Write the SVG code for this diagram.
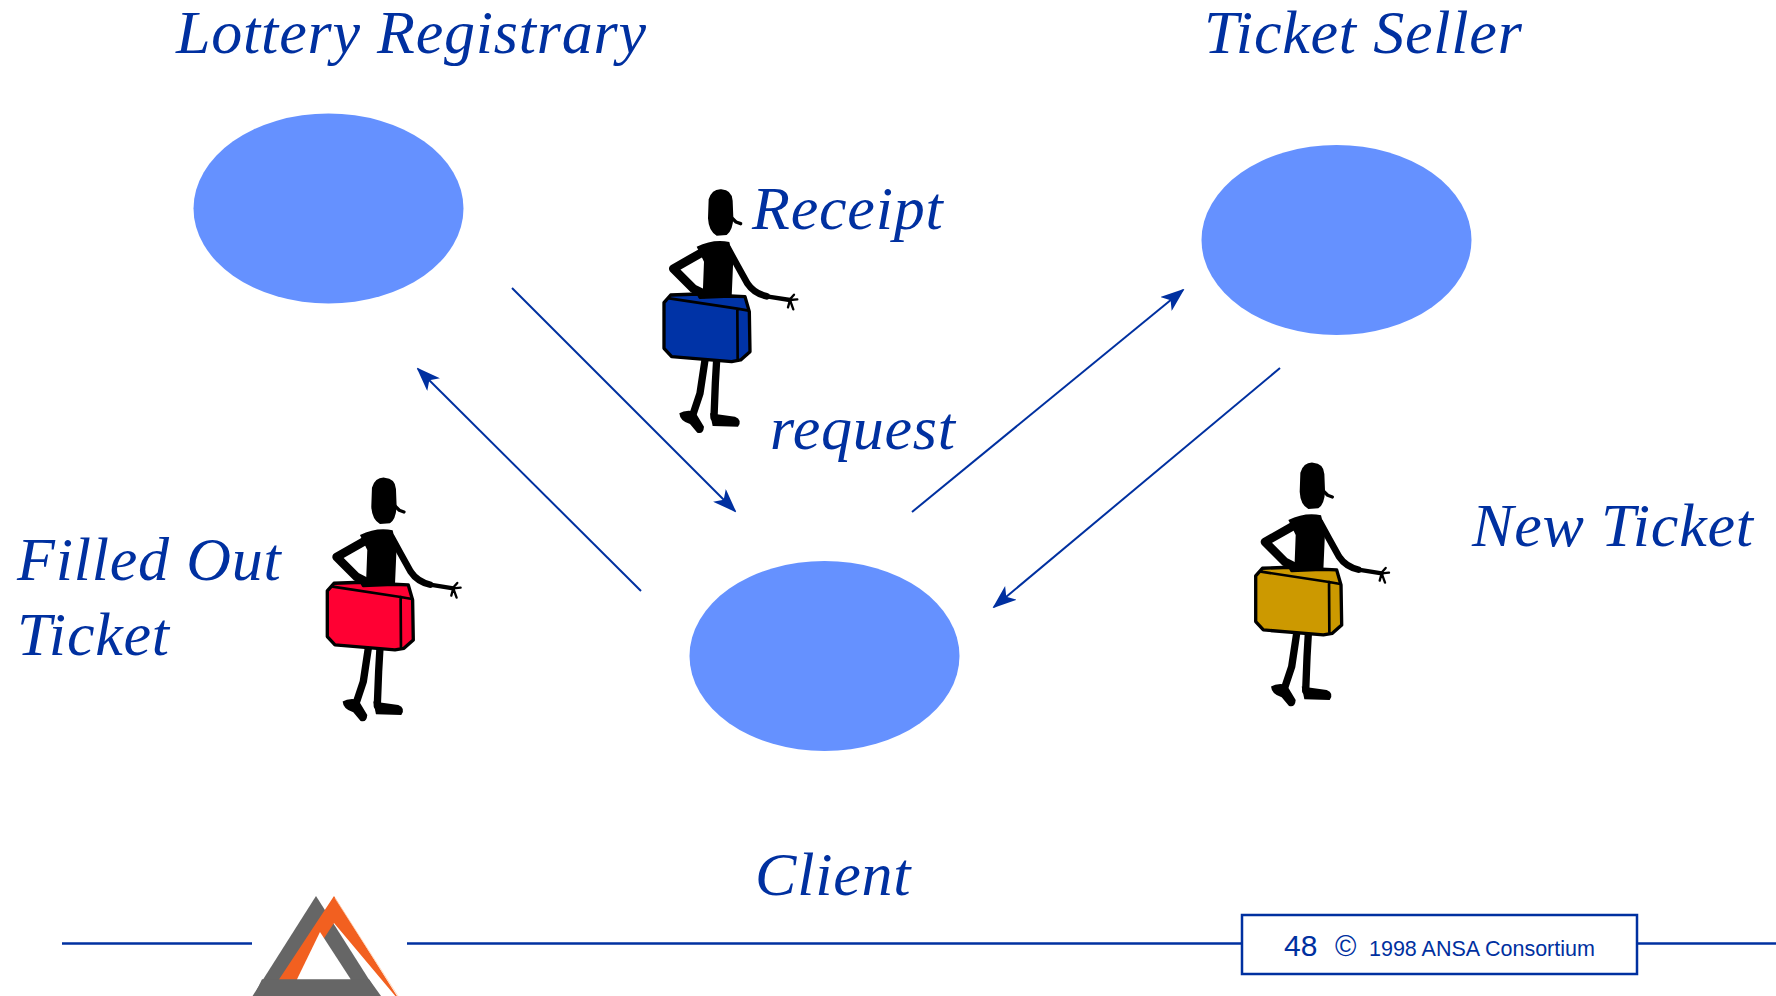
<svg xmlns="http://www.w3.org/2000/svg" xmlns:xlink="http://www.w3.org/1999/xlink" width="1776" height="996" viewBox="0 0 1776 996">
  <style>
    .label { font-family: "Liberation Serif", "Times New Roman", serif; font-style: italic; font-size: 62px; letter-spacing: 0.8px; fill: #0030A0; }
    .node { fill: #6591FF; }
    .conn { stroke: #0030A0; stroke-width: 2; fill: none; }
    .rule { stroke: #0030A0; stroke-width: 2.5; fill: none; }
    .foot { font-family: "Liberation Sans", Arial, sans-serif; fill: #0030A0; }
    .ink { fill: #000; }
    .limb { fill: none; stroke: #000; stroke-linecap: round; stroke-linejoin: round; }
  </style>
  <defs>
    <marker id="arrow" viewBox="0 0 24 18" refX="22" refY="9" markerWidth="24" markerHeight="18" markerUnits="userSpaceOnUse" orient="auto">
      <path d="M0,0 L24,9 L0,18 L6,9 Z" fill="#0030A0"/>
    </marker>
    <!-- porter carrying a case; case colour comes from currentColor -->
    <g id="porter">
      <!-- head -->
      <path class="ink" d="M176,58 Q186,26 214,28 Q246,30 248,62 L250,112 Q249,152 230,165 L200,167 Q176,154 174,115 Z"/>
      <path class="limb" stroke-width="10" d="M236,104 L258,126 L272,131"/>
      <!-- torso -->
      <path class="ink" d="M140,200 Q190,176 238,186 L250,235 L245,350 L158,350 L162,245 Z"/>
      <!-- right arm reaching out -->
      <path class="limb" stroke-width="20" d="M234,205 L264,260 L292,310 Q312,340 350,349"/>
      <path class="limb" stroke-width="13" d="M350,349 L420,360"/>
      <path class="limb" stroke-width="7" d="M418,360 L432,344 M420,360 L442,358 M420,360 L430,388 M420,360 L414,382"/>
      <!-- legs and feet -->
      <path class="limb" stroke-width="22" d="M165,540 L150,640 L130,700"/>
      <path class="ink" d="M88,700 Q105,688 134,694 L162,740 Q160,764 142,758 L120,732 Q90,724 88,700 Z"/>
      <path class="limb" stroke-width="22" d="M200,540 L196,610 L192,712"/>
      <path class="ink" d="M180,700 L255,710 Q278,720 264,740 L188,738 Z"/>
      <!-- case -->
      <path fill="currentColor" stroke="#000" stroke-width="10" stroke-linejoin="round" d="M42,368 L62,345 L145,342 L150,352 L240,348 L285,350 L298,395 L300,515 L272,540 L245,545 L65,530 L42,505 Z"/>
      <path class="limb" stroke-width="8" d="M58,355 L262,386 L296,392 M262,386 L263,536"/>
      <!-- left arm with hand on the case -->
      <path class="limb" stroke-width="26" d="M165,212 L70,266 L130,326 L162,342"/>
    </g>
  </defs>

  <!-- connectors -->
  <g id="connectors">
    <line class="conn" x1="512" y1="288" x2="735" y2="511" marker-end="url(#arrow)"/>
    <line class="conn" x1="641" y1="591" x2="418" y2="369" marker-end="url(#arrow)"/>
    <line class="conn" x1="912" y1="512" x2="1183" y2="290" marker-end="url(#arrow)"/>
    <line class="conn" x1="1280" y1="368" x2="994" y2="607" marker-end="url(#arrow)"/>
  </g>

  <!-- nodes -->
  <g id="lottery-registrary">
    <ellipse class="node" cx="328.5" cy="208.5" rx="135" ry="95"/>
    <text class="label" x="176" y="53">Lottery Registrary</text>
  </g>
  <g id="ticket-seller">
    <ellipse class="node" cx="1336.5" cy="240" rx="135" ry="95"/>
    <text class="label" x="1204" y="53">Ticket Seller</text>
  </g>
  <g id="client">
    <ellipse class="node" cx="824.5" cy="656" rx="135" ry="95"/>
    <text class="label" x="755" y="895">Client</text>
  </g>

  <!-- messages carried between nodes -->
  <g id="receipt">
    <use xlink:href="#porter" href="#porter" transform="translate(650,180) scale(0.3333)" style="color:#0033A6"/>
    <text class="label" x="752" y="229">Receipt</text>
  </g>
  <g id="request">
    <text class="label" x="770" y="449">request</text>
  </g>
  <g id="filled-out-ticket">
    <use xlink:href="#porter" href="#porter" transform="translate(313.3,468.3) scale(0.3333)" style="color:#FF0033"/>
    <text class="label" x="17" y="580">Filled Out</text>
    <text class="label" x="17" y="655">Ticket</text>
  </g>
  <g id="new-ticket">
    <use xlink:href="#porter" href="#porter" transform="translate(1241.7,453.3) scale(0.3333)" style="color:#CC9900"/>
    <text class="label" x="1472" y="546">New Ticket</text>
  </g>

  <!-- footer -->
  <g id="footer">
    <line class="rule" x1="62" y1="943.5" x2="252" y2="943.5"/>
    <line class="rule" x1="407" y1="943.5" x2="1242" y2="943.5"/>
    <line class="rule" x1="1637" y1="943.5" x2="1776" y2="943.5"/>
    <rect x="1242" y="915" width="395" height="59" fill="#fff" stroke="#0030A0" stroke-width="2.5"/>
    <text class="foot" x="1284" y="956" font-size="30">48</text>
    <text class="foot" x="1335" y="956" font-size="29">©</text>
    <text class="foot" x="1369" y="956" font-size="21.5">1998 ANSA Consortium</text>
  </g>

  <!-- logo -->
  <g id="logo">
    <path fill="#666666" d="M316,896 L250,1000 L382,1000 Z"/>
    <path fill="#F26020" fill-rule="evenodd" d="M334,896 L276,984 L402,1004 Z M334,923 L297,980 L381,996 L381,1004 L402,1004 Z"/>
    <path fill="#666666" d="M262,979.3 L369,979.3 L381,996 L381,1004 L250,1004 Z"/>
    <path fill="#fff" d="M320,932 L297,979.3 L350.7,979.3 Z"/>
    <line x1="335" y1="898" x2="398" y2="996" stroke="#FFD0B0" stroke-width="0.8"/>
  </g>
</svg>
